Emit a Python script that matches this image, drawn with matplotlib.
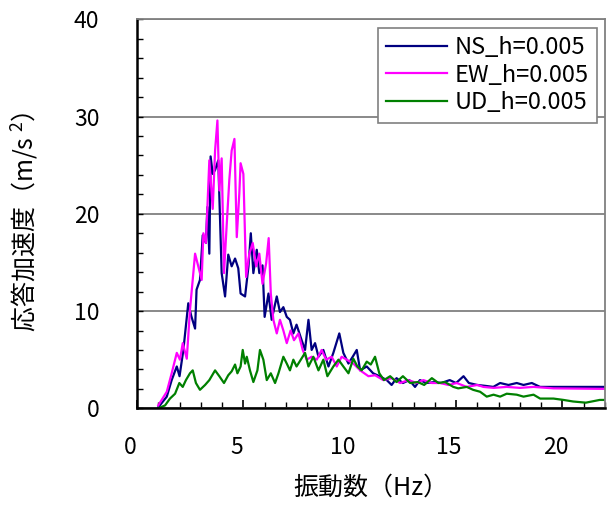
import matplotlib
matplotlib.use("Agg")
import matplotlib.pyplot as plt
import matplotlib.transforms as mtransforms
from matplotlib.ticker import MultipleLocator

plt.rcParams['font.family'] = ['Noto Sans CJK JP', 'DejaVu Sans']
plt.rcParams['mathtext.fontset'] = 'custom'
plt.rcParams['mathtext.rm'] = 'Noto Sans CJK JP'

# 振動数 (Hz) と 応答加速度 (m/s2)
ns_x = [1.0, 1.4, 1.63, 1.87, 2.0, 2.18, 2.41, 2.55, 2.73, 2.8, 2.96, 3.09, 3.24, 3.31, 3.4,
        3.46, 3.56, 3.67, 3.82, 3.98, 4.14, 4.29, 4.45, 4.61, 4.76, 4.87, 5.08, 5.24, 5.35,
        5.47, 5.63, 5.75, 5.9, 6.0, 6.18, 6.33, 6.57, 6.72, 6.88, 7.04, 7.19, 7.35, 7.5,
        7.74, 7.9, 8.06, 8.21, 8.37, 8.53, 8.76, 9.0, 9.23, 9.51, 9.7, 9.94, 10.14, 10.33,
        10.49, 10.8, 11.1, 11.4, 11.74, 11.97, 12.2, 12.5, 12.8, 13.07, 13.3, 13.6, 14.0,
        14.3, 14.7, 15.0, 15.35, 15.6, 16.0, 16.4, 16.75, 17.07, 17.46, 17.85, 18.17,
        18.56, 18.95, 19.6, 21.9, 22.0]
ns_y = [0.1, 1.2, 2.9, 4.3, 3.3, 6.0, 10.8, 9.5, 8.2, 12.2, 13.2, 17.8, 17.0, 20.7, 15.9,
        25.9, 24.1, 24.5, 25.5, 13.9, 11.5, 15.8, 14.6, 15.4, 14.4, 11.8, 11.5, 14.6, 18.0,
        13.9, 16.3, 13.9, 14.7, 9.4, 11.8, 9.1, 11.5, 9.9, 10.4, 9.4, 9.1, 7.7, 8.6,
        7.0, 6.0, 9.1, 6.0, 6.7, 5.3, 6.0, 4.3, 5.7, 7.7, 5.7, 4.6, 5.3, 6.0,
        3.9, 4.3, 3.6, 3.3, 2.9, 2.4, 3.1, 2.6, 2.9, 2.2, 2.9, 2.6, 2.7,
        2.6, 2.9, 2.6, 3.3, 2.6, 2.4, 2.3, 2.2, 2.6, 2.4, 2.6, 2.4,
        2.6, 2.2, 2.2, 2.2, 2.2]

ew_x = [1.0, 1.4, 1.63, 1.87, 2.02, 2.15, 2.34, 2.49, 2.73, 2.88, 3.04, 3.12, 3.24, 3.4,
        3.56, 3.67, 3.78, 3.87, 3.98, 4.09, 4.22, 4.34, 4.45, 4.58, 4.69, 4.81, 4.87, 5.0,
        5.13, 5.28, 5.44, 5.6, 5.75, 5.9, 6.07, 6.19, 6.29, 6.41, 6.57, 6.72, 6.88, 7.04,
        7.22, 7.38, 7.59, 7.79, 7.98, 8.21, 8.45, 8.68, 8.89, 9.15, 9.39, 9.62, 9.86, 10.17,
        10.49, 10.88, 11.19, 11.58, 11.97, 12.37, 12.76, 13.15, 13.46, 13.86, 14.25, 14.64,
        15.03, 15.5, 16.0, 16.28, 16.76, 17.38, 18.0, 18.64, 19.58, 21.9, 22.0]
ew_y = [0.3, 1.7, 3.6, 5.7, 5.0, 6.7, 5.1, 10.1, 15.9, 14.6, 13.2, 18.0, 17.0, 25.5,
        20.5, 26.5, 29.6, 22.4, 25.7, 13.9, 19.0, 23.5, 26.5, 27.7, 17.6, 22.1, 25.2, 24.1,
        13.5, 15.9, 17.0, 14.6, 15.9, 12.8, 14.9, 17.5, 11.8, 9.1, 7.7, 9.1, 8.0, 6.7,
        8.0, 7.0, 7.7, 6.0, 5.0, 5.3, 5.0, 6.0, 5.0, 5.3, 4.3, 5.3, 5.0, 4.6,
        3.9, 3.3, 3.4, 2.9, 3.1, 2.6, 2.9, 2.6, 2.9, 2.6, 2.6, 2.4,
        2.6, 2.2, 2.4, 2.2, 2.1, 2.2, 2.1, 2.2, 2.05, 2.0, 2.0]

ud_x = [1.0, 1.32, 1.55, 1.79, 1.99, 2.15, 2.3, 2.49, 2.62, 2.77, 2.96, 3.2, 3.4, 3.67,
        3.87, 4.09, 4.29, 4.45, 4.61, 4.72, 4.87, 4.97, 5.08, 5.16, 5.31, 5.47, 5.66, 5.78,
        5.94, 6.1, 6.29, 6.49, 6.65, 6.88, 7.04, 7.19, 7.35, 7.5, 7.7, 7.9, 8.06, 8.29,
        8.53, 8.76, 8.95, 9.23, 9.47, 9.7, 9.94, 10.17, 10.36, 10.56, 10.8, 10.99, 11.19,
        11.39, 11.61, 11.9, 12.2, 12.5, 12.84, 13.2, 13.5, 13.86, 14.17, 14.48, 14.87,
        15.1, 15.5, 15.8, 16.13, 16.44, 16.76, 17.07, 17.38, 17.85, 18.17, 18.64, 18.95,
        19.58, 20.05, 20.5, 21.1, 21.75, 22.0]
ud_y = [0.0, 0.3, 1.0, 1.5, 2.6, 2.2, 2.9, 3.6, 3.9, 2.6, 1.9, 2.4, 2.9, 3.9,
        3.3, 2.6, 3.4, 3.8, 4.5, 3.6, 4.3, 6.0, 4.6, 5.3, 3.9, 2.7, 3.9, 6.0,
        5.0, 2.9, 3.6, 2.6, 3.6, 5.3, 4.6, 3.9, 5.0, 4.3, 5.0, 5.7, 4.3, 5.3,
        3.9, 5.0, 3.3, 4.3, 5.0, 4.3, 3.6, 5.1, 4.3, 3.9, 4.8, 4.5, 5.3,
        3.6, 2.9, 3.3, 2.7, 3.3, 2.6, 2.7, 2.4, 3.1, 2.6, 2.7, 2.2,
        2.05, 2.2, 1.9, 1.7, 1.2, 1.4, 1.2, 1.5, 1.4, 1.2, 1.4, 1.0,
        1.0, 0.86, 0.7, 0.58, 0.86, 0.86]

labels = ['NS_h=0.005', 'EW_h=0.005', 'UD_h=0.005']
colors = ['#000080', '#ff00ff', '#008000']

fig = plt.figure(figsize=(6.09, 5.05), dpi=100)
ax = fig.add_axes([137 / 609, 1 - 408.3 / 505, 468 / 609, 389 / 505])

for xs, ys, lab, c in zip([ns_x, ew_x, ud_x], [ns_y, ew_y, ud_y], labels, colors):
    ax.plot(xs, ys, color=c, lw=1.6, label=lab)

ax.set_xlim(0, 22)
ax.set_ylim(0, 40)
ax.xaxis.set_major_locator(MultipleLocator(5))
ax.xaxis.set_minor_locator(MultipleLocator(1))
ax.yaxis.set_major_locator(MultipleLocator(10))
ax.yaxis.set_minor_locator(MultipleLocator(2))
ax.tick_params(which='both', direction='in', labelsize=16.5)
ax.tick_params(axis='x', which='major', length=6, width=1.2, pad=20)
ax.tick_params(axis='x', which='minor', length=4.5, width=1.0)
ax.tick_params(axis='y', which='both', length=4, width=1.0, pad=27)
ax.yaxis.grid(True, which='major', color='#808080', lw=1.3)
ax.set_axisbelow(True)

for side in ['left', 'bottom']:
    ax.spines[side].set_color('black')
    ax.spines[side].set_linewidth(1.8)
for side in ['top', 'right']:
    ax.spines[side].set_color('#808080')
    ax.spines[side].set_linewidth(1.3)

# Excel-style: x labels sit a bit left of their ticks
shift = mtransforms.ScaledTranslation(-0.07, 0, fig.dpi_scale_trans)
for t in ax.get_xticklabels():
    t.set_transform(t.get_transform() + shift)

ax.set_xlabel('振動数（Hz）', fontsize=18)
ax.xaxis.set_label_coords(0.5, -0.17)
ax.set_ylabel('応答加速度（m/s $^{2}$）', fontsize=18)
ax.yaxis.set_label_coords(-0.205, 0.48)

leg = ax.legend(loc='upper right', fontsize=17, frameon=True, fancybox=False,
                borderaxespad=0.35, handlelength=2.6, handletextpad=0.3,
                labelspacing=0.2, borderpad=0.35)
leg.get_frame().set_edgecolor('#808080')
leg.get_frame().set_linewidth(1.2)
leg.get_frame().set_alpha(1)

fig.savefig('out.png', dpi=100)
